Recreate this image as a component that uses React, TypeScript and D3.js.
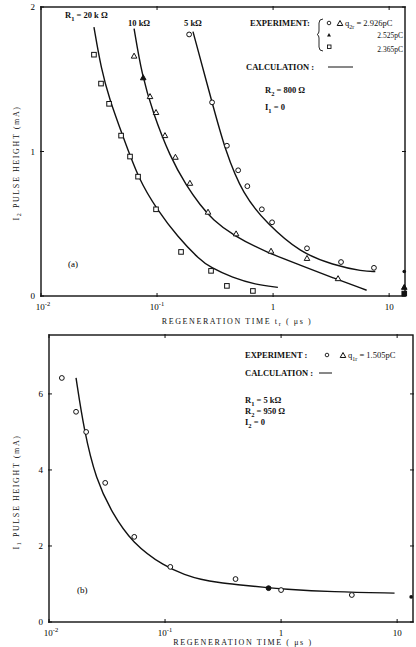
import React from "react";
import * as d3 from "d3";

// panel (a): I2 pulse height vs regeneration time
const sq20k = [
  [0.0286, 1.67], [0.0329, 1.47], [0.0386, 1.33], [0.049, 1.11], [0.0585, 0.965],
  [0.0686, 0.826], [0.098, 0.6], [0.161, 0.305], [0.292, 0.174], [0.4, 0.07], [0.67, 0.035],
];
const tri10k = [
  [0.0634, 1.66], [0.087, 1.38], [0.098, 1.27], [0.117, 1.11], [0.144, 0.96],
  [0.192, 0.78], [0.275, 0.58], [0.48, 0.43], [0.96, 0.31], [1.96, 0.26], [3.63, 0.12],
];
const triFilled10k = [[0.076, 1.51]];
const circ5k = [
  [0.189, 1.81], [0.298, 1.34], [0.4, 1.04], [0.5, 0.87], [0.6, 0.76], [0.8, 0.6],
  [0.98, 0.51], [1.96, 0.33], [3.85, 0.235], [7.4, 0.195],
];
const calc20k = [
  [0.0286, 1.86], [0.033, 1.57], [0.039, 1.36], [0.05, 1.12], [0.07, 0.8],
  [0.1, 0.6], [0.15, 0.41], [0.234, 0.25], [0.286, 0.2], [0.45, 0.125], [0.7, 0.08], [1.1, 0.06],
];
const calc10k = [
  [0.0634, 1.85], [0.074, 1.53], [0.092, 1.27], [0.129, 0.965], [0.18, 0.76], [0.235, 0.63],
  [0.3, 0.53], [0.45, 0.42], [0.89, 0.3], [1.71, 0.215], [3.29, 0.125], [6.4, 0.04],
];
const calc5k = [
  [0.204, 1.83], [0.298, 1.34], [0.385, 1.01], [0.55, 0.7], [0.89, 0.5],
  [1.71, 0.3], [3.29, 0.215], [5.97, 0.17], [7.6, 0.17],
];
// asymptotic values drawn on the right border
const edgeA = [
  { shape: "circle", x: 13.5, y: 0.17 },
  { shape: "tri", x: 13.5, y: 0.06 },
  { shape: "square", x: 13.5, y: 0.01 },
];

// panel (b): I1 pulse height
const circB = [
  [0.0129, 6.42], [0.0171, 5.53], [0.0209, 5.0], [0.0305, 3.66], [0.0543, 2.24],
  [0.111, 1.45], [0.405, 1.13], [1.0, 0.84], [4.07, 0.71],
];
const circBFilled = [[0.78, 0.89]];
const calcB = [
  [0.0171, 6.42], [0.02, 5.05], [0.0254, 3.74], [0.035, 2.87], [0.052, 2.08], [0.1, 1.45],
  [0.15, 1.24], [0.2, 1.12], [0.3, 1.03], [0.4, 0.99], [0.78, 0.9], [1.0, 0.87], [2.79, 0.79], [9.5, 0.76],
];
const edgeB = [{ x: 13.2, y: 0.66 }];

const xTicks = [0.01, 0.1, 1, 10];
const xTickLabels = ["10", "10", "1", "10"];
const xTickExp = ["-2", "-1", "", ""];
const yTicksA = [0, 1, 2];
const yTicksB = [0, 2, 4, 6];

const FONT = "'Liberation Serif', 'DejaVu Serif', serif";

const xA = d3.scaleLog().domain([0.01, 13.7]).range([41, 405]);
const yA = d3.scaleLinear().domain([0, 2]).range([296, 7]);
const xB = d3.scaleLog().domain([0.01, 13.7]).range([49, 413]);
const yB = d3.scaleLinear().domain([0, 7.55]).range([622, 335]);

const Circle = ({ x, y, filled = false }) => (
  <circle cx={x} cy={y} r={2.4} fill={filled ? "#111" : "#fff"} stroke="#111" strokeWidth={1} />
);
const Square = ({ x, y, filled = false }) => (
  <rect x={x - 2.3} y={y - 2.3} width={4.6} height={4.6} fill={filled ? "#111" : "#fff"} stroke="#111" strokeWidth={1} />
);
const Tri = ({ x, y, filled = false }) => (
  <path d={`M${x},${y - 3} L${x + 2.8},${y + 2} L${x - 2.8},${y + 2} Z`} fill={filled ? "#111" : "#fff"} stroke="#111" strokeWidth={1} />
);

const Frame = ({ x, y, ticksY }) => {
  const [x0, x1] = x.range();
  const [y0, y1] = y.range();
  return (
    <g>
      <rect x={x0} y={y1} width={x1 - x0} height={y0 - y1} fill="none" stroke="#111" strokeWidth={1.4} />
      {xTicks.map((t) => (
        <g key={t}>
          <line x1={x(t)} x2={x(t)} y1={y0 - 3} y2={y0 + 1} stroke="#111" strokeWidth={1} />
          <line x1={x(t)} x2={x(t)} y1={y1 - 1} y2={y1 + 3} stroke="#111" strokeWidth={1} />
        </g>
      ))}
      {ticksY.map((t) => (
        <g key={t}>
          <line x1={x0 - 1} x2={x0 + 3} y1={y(t)} y2={y(t)} stroke="#111" strokeWidth={1} />
          <line x1={x1 - 3} x2={x1 + 1} y1={y(t)} y2={y(t)} stroke="#111" strokeWidth={1} />
          <text x={x0 - 6} y={y(t) + 3} fontSize={9} textAnchor="end" fontFamily={FONT}>{t}</text>
        </g>
      ))}
      {xTicks.map((t, i) => (
        <text key={"l" + t} x={x(t) + (i === 0 ? 2 : 0)} y={y0 + 14} fontSize={9} textAnchor="middle" fontFamily={FONT}>
          {xTickLabels[i]}
          {xTickExp[i] && <tspan fontSize={6.5} dy={-4}>{xTickExp[i]}</tspan>}
        </text>
      ))}
    </g>
  );
};

const lineGen = (x, y) =>
  d3.line().x((d) => x(d[0])).y((d) => y(d[1])).curve(d3.curveBasis);

export default function App() {
  const la = lineGen(xA, yA);
  const lb = lineGen(xB, yB);
  const ann = { fontFamily: FONT, fontSize: 8.5, fontWeight: 700, fill: "#111" };
  const axisTitle = { fontFamily: FONT, fontSize: 8, letterSpacing: 1.6, fill: "#111" };
  return (
    <svg width={416} height={647} style={{ position: "absolute", left: 0, top: 0, background: "#fff" }}>
      {/* ---------- panel (a) ---------- */}
      <Frame x={xA} y={yA} ticksY={yTicksA} />
      {[calc20k, calc10k, calc5k].map((c, i) => (
        <path key={i} d={la(c)} fill="none" stroke="#111" strokeWidth={1.4} />
      ))}
      {sq20k.map((d, i) => <Square key={i} x={xA(d[0])} y={yA(d[1])} />)}
      {tri10k.map((d, i) => <Tri key={i} x={xA(d[0])} y={yA(d[1])} />)}
      {triFilled10k.map((d, i) => <Tri key={i} x={xA(d[0])} y={yA(d[1])} filled />)}
      {circ5k.map((d, i) => <Circle key={i} x={xA(d[0])} y={yA(d[1])} />)}
      {edgeA.map((d, i) =>
        d.shape === "circle" ? <circle key={i} cx={xA(d.x)} cy={yA(d.y)} r={1.8} fill="#111" />
        : d.shape === "tri" ? <Tri key={i} x={xA(d.x)} y={yA(d.y)} filled />
        : <Square key={i} x={xA(d.x)} y={yA(d.y) - 1} filled />
      )}

      <text x={65} y={18} {...ann}>R<tspan fontSize={6.5} dy={3}>1</tspan><tspan dy={-3}> = 20 k Ω</tspan></text>
      <text x={128} y={26} {...ann}>10 kΩ</text>
      <text x={184} y={26} {...ann}>5 kΩ</text>

      <text x={250} y={26} {...ann}>EXPERIMENT:</text>
      <path d="M323,19 Q319,19 319,23 L319,31 Q319,34 317,34.5 Q319,35 319,38 L319,47 Q319,51 323,51" fill="none" stroke="#111" strokeWidth={0.9} />
      <circle cx={329} cy={23} r={1.8} fill="none" stroke="#111" strokeWidth={0.9} />
      <Tri x={340} y={23.5} />
      <text x={345} y={26} {...ann} fontWeight={500}>q<tspan fontSize={6} dy={3}>2r</tspan><tspan dy={-3}> = 2.926pC</tspan></text>
      <path d="M329,33 L331,36.5 L327,36.5 Z" fill="#111" />
      <text x={403} y={38} {...ann} fontWeight={500} fontSize={7.5} textAnchor="end">2.525pC</text>
      <rect x={327.5} y={45} width={3.5} height={3.5} fill="#fff" stroke="#111" strokeWidth={0.9} />
      <text x={403} y={52} {...ann} fontWeight={500} fontSize={7.5} textAnchor="end">2.365pC</text>

      <text x={246} y={70} {...ann}>CALCULATION :</text>
      <line x1={328} x2={353} y1={67} y2={67} stroke="#111" strokeWidth={1} />
      <text x={265} y={93} {...ann}>R<tspan fontSize={6.5} dy={3}>2</tspan><tspan dy={-3}> = 800 Ω</tspan></text>
      <text x={265} y={110} {...ann}>I<tspan fontSize={6.5} dy={3}>1</tspan><tspan dy={-3}> = 0</tspan></text>
      <text x={68} y={267} fontFamily={FONT} fontSize={9}>(a)</text>

      <text x={237} y={324} textAnchor="middle" {...axisTitle}>
        REGENERATION TIME  t<tspan fontSize={6} dy={2}>r</tspan><tspan dy={-2}> ( μs )</tspan>
      </text>
      <text transform="translate(19,163) rotate(-90)" textAnchor="middle" {...axisTitle}>
        I<tspan fontSize={6} dy={2}>2</tspan><tspan dy={-2}>  PULSE  HEIGHT  (mA)</tspan>
      </text>

      {/* ---------- panel (b) ---------- */}
      <Frame x={xB} y={yB} ticksY={yTicksB} />
      <path d={lb(calcB)} fill="none" stroke="#111" strokeWidth={1.4} />
      {circB.map((d, i) => <Circle key={i} x={xB(d[0])} y={yB(d[1])} />)}
      {circBFilled.map((d, i) => <Circle key={i} x={xB(d[0])} y={yB(d[1])} filled />)}
      {edgeB.map((d, i) => <circle key={i} cx={xB(d.x)} cy={yB(d.y)} r={1.8} fill="#111" />)}

      <text x={245} y={358} {...ann}>EXPERIMENT :</text>
      <circle cx={327} cy={355} r={1.8} fill="none" stroke="#111" strokeWidth={0.9} />
      <Tri x={343} y={355.5} />
      <text x={348} y={358} {...ann} fontWeight={500}>q<tspan fontSize={6} dy={3}>1r</tspan><tspan dy={-3}> = 1.505pC</tspan></text>
      <text x={245} y={376} {...ann}>CALCULATION :</text>
      <line x1={319} x2={332} y1={373} y2={373} stroke="#111" strokeWidth={1} />
      <text x={245} y={403} {...ann}>R<tspan fontSize={6.5} dy={3}>1</tspan><tspan dy={-3}> = 5 kΩ</tspan></text>
      <text x={245} y={414} {...ann}>R<tspan fontSize={6.5} dy={3}>2</tspan><tspan dy={-3}> = 950 Ω</tspan></text>
      <text x={245} y={425} {...ann}>I<tspan fontSize={6.5} dy={3}>2</tspan><tspan dy={-3}> = 0</tspan></text>
      <text x={77} y={593} fontFamily={FONT} fontSize={9}>(b)</text>

      <text x={243} y={645} textAnchor="middle" {...axisTitle}>REGENERATION  TIME ( μs )</text>
      <text transform="translate(19,492) rotate(-90)" textAnchor="middle" {...axisTitle}>
        I<tspan fontSize={6} dy={2}>1</tspan><tspan dy={-2}>  PULSE  HEIGHT  (mA)</tspan>
      </text>
    </svg>
  );
}
